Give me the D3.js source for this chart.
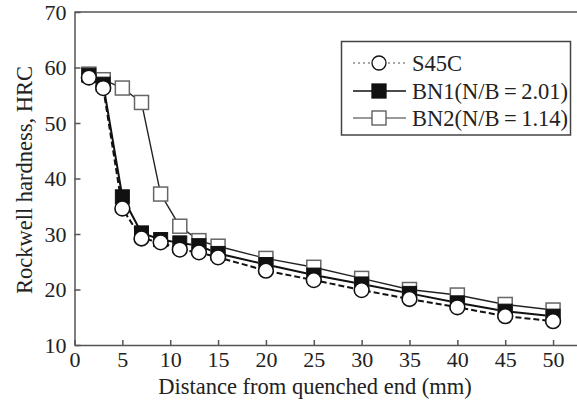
<!DOCTYPE html>
<html lang="en">
<head>
  <meta charset="UTF-8">
  <title>Jominy hardness</title>
  <script src="https://d3js.org/d3.v7.min.js"></script>
  <style>
    body { margin: 0; background: #fff; }
    svg { display: block; font-family: "Liberation Serif", "Times New Roman", serif; }
    .axis path, .axis line { stroke: #555; stroke-width: 1.5; }
    .axis text { font-size: 22px; fill: #222; font-family: "Liberation Serif", "Times New Roman", serif; }
    .axis-label { font-size: 22.5px; fill: #222; text-anchor: middle; }
    .legend text { font-size: 22.5px; fill: #222; }
  </style>
</head>
<body>
  <div id="chart"></div>
  <script>
    // distance from quenched end (mm)
    const distance = [1.5, 3, 5, 7, 9, 11, 13, 15, 20, 25, 30, 35, 40, 45, 50];
    // Rockwell hardness (HRC)
    const s45c = [58.2, 56.3, 34.6, 29.2, 28.5, 27.2, 26.7, 25.8, 23.4, 21.7, 19.9, 18.3, 16.8, 15.2, 14.3];
    const bn1  = [58.6, 57.0, 36.7, 30.2, 29.0, 28.4, 27.9, 26.5, 24.5, 22.6, 21.0, 19.3, 17.6, 16.1, 15.2];
    const bn2  = [58.8, 57.8, 56.3, 53.7, 37.2, 31.4, 28.8, 27.8, 25.6, 24.0, 22.0, 20.0, 19.0, 17.3, 16.3];
    const xTicks = [0, 5, 10, 15, 20, 25, 30, 35, 40, 45, 50];
    const yTicks = [10, 20, 30, 40, 50, 60, 70];
    const seriesNames = ["S45C", "BN1(N/B\u2009=\u20092.01)", "BN2(N/B\u2009=\u20091.14)"];

    const width = 577, height = 411;
    const plotLeft = 74.5, plotTop = 12, plotBottom = 345;

    const svg = d3.select("#chart").append("svg")
      .attr("width", width)
      .attr("height", height);

    const x = d3.scaleLinear().domain([0, 52.5]).range([plotLeft, width]);
    const y = d3.scaleLinear().domain([10, 70]).range([plotBottom, plotTop]);

    // axes (ticks point inward)
    svg.append("g")
      .attr("class", "x axis")
      .attr("transform", `translate(0,${plotBottom})`)
      .call(d3.axisBottom(x).tickValues(xTicks).tickSizeInner(-5).tickSizeOuter(0).tickPadding(6))
      .attr("font-family", null).attr("font-size", null);

    svg.append("g")
      .attr("class", "y axis")
      .attr("transform", `translate(${plotLeft},0)`)
      .call(d3.axisLeft(y).tickValues(yTicks).tickSizeInner(-6).tickSizeOuter(0).tickPadding(8))
      .attr("font-family", null).attr("font-size", null);

    // top frame line
    svg.append("line")
      .attr("x1", plotLeft).attr("x2", width)
      .attr("y1", plotTop).attr("y2", plotTop)
      .attr("stroke", "#555").attr("stroke-width", 1.5);

    // axis labels
    svg.append("text")
      .attr("class", "axis-label")
      .attr("x", 315)
      .attr("y", 394)
      .text("Distance from quenched end (mm)");

    svg.append("text")
      .attr("class", "axis-label")
      .attr("transform", "rotate(-90)")
      .attr("x", -180)
      .attr("y", 32)
      .text("Rockwell hardness, HRC");

    const line = d3.line().x(d => x(d[0])).y(d => y(d[1]));
    const pts = vals => distance.map((d, i) => [d, vals[i]]);

    svg.append("path").datum(pts(s45c))
      .attr("d", line).attr("fill", "none")
      .attr("stroke", "#111").attr("stroke-width", 2).attr("stroke-dasharray", "6,3");
    svg.append("path").datum(pts(bn1))
      .attr("d", line).attr("fill", "none")
      .attr("stroke", "#111").attr("stroke-width", 2);
    svg.append("path").datum(pts(bn2))
      .attr("d", line).attr("fill", "none")
      .attr("stroke", "#222").attr("stroke-width", 1.4);

    const sq = 14;
    svg.selectAll(".bn2").data(pts(bn2)).enter().append("rect")
      .attr("class", "bn2")
      .attr("x", d => x(d[0]) - sq / 2).attr("y", d => y(d[1]) - sq / 2)
      .attr("width", sq).attr("height", sq)
      .attr("fill", "#fff").attr("stroke", "#666").attr("stroke-width", 1.5);

    svg.selectAll(".bn1").data(pts(bn1)).enter().append("rect")
      .attr("class", "bn1")
      .attr("x", d => x(d[0]) - sq / 2).attr("y", d => y(d[1]) - sq / 2)
      .attr("width", sq).attr("height", sq)
      .attr("fill", "#111").attr("stroke", "#111").attr("stroke-width", 1);

    svg.selectAll(".s45c").data(pts(s45c)).enter().append("circle")
      .attr("class", "s45c")
      .attr("cx", d => x(d[0])).attr("cy", d => y(d[1]))
      .attr("r", 7.4)
      .attr("fill", "#fff").attr("stroke", "#111").attr("stroke-width", 1.6);

    // legend
    const lg = svg.append("g").attr("class", "legend");
    lg.append("rect")
      .attr("x", 341.5).attr("y", 41.5).attr("width", 229).attr("height", 93.5)
      .attr("fill", "#fff").attr("stroke", "#444").attr("stroke-width", 1.5);

    const rows = [63, 91, 118];
    const styles = [
      { dash: "2,3", stroke: "#555", sw: 1.2 },
      { dash: null, stroke: "#111", sw: 1.6 },
      { dash: null, stroke: "#777", sw: 1.6 }
    ];
    seriesNames.forEach((name, i) => {
      const ry = rows[i];
      lg.append("line")
        .attr("x1", 353).attr("x2", 406).attr("y1", ry).attr("y2", ry)
        .attr("stroke", styles[i].stroke).attr("stroke-width", styles[i].sw)
        .attr("stroke-dasharray", styles[i].dash);
      if (i === 0) {
        lg.append("circle").attr("cx", 379).attr("cy", ry).attr("r", 7)
          .attr("fill", "#fff").attr("stroke", "#111").attr("stroke-width", 1.3);
      } else {
        lg.append("rect").attr("x", 379 - 7).attr("y", ry - 7).attr("width", 14).attr("height", 14)
          .attr("fill", i === 1 ? "#111" : "#fff")
          .attr("stroke", i === 1 ? "#111" : "#555").attr("stroke-width", 1.3);
      }
      lg.append("text").attr("x", 412).attr("y", ry).attr("dy", "0.35em").text(name);
    });
  </script>
</body>
</html>
